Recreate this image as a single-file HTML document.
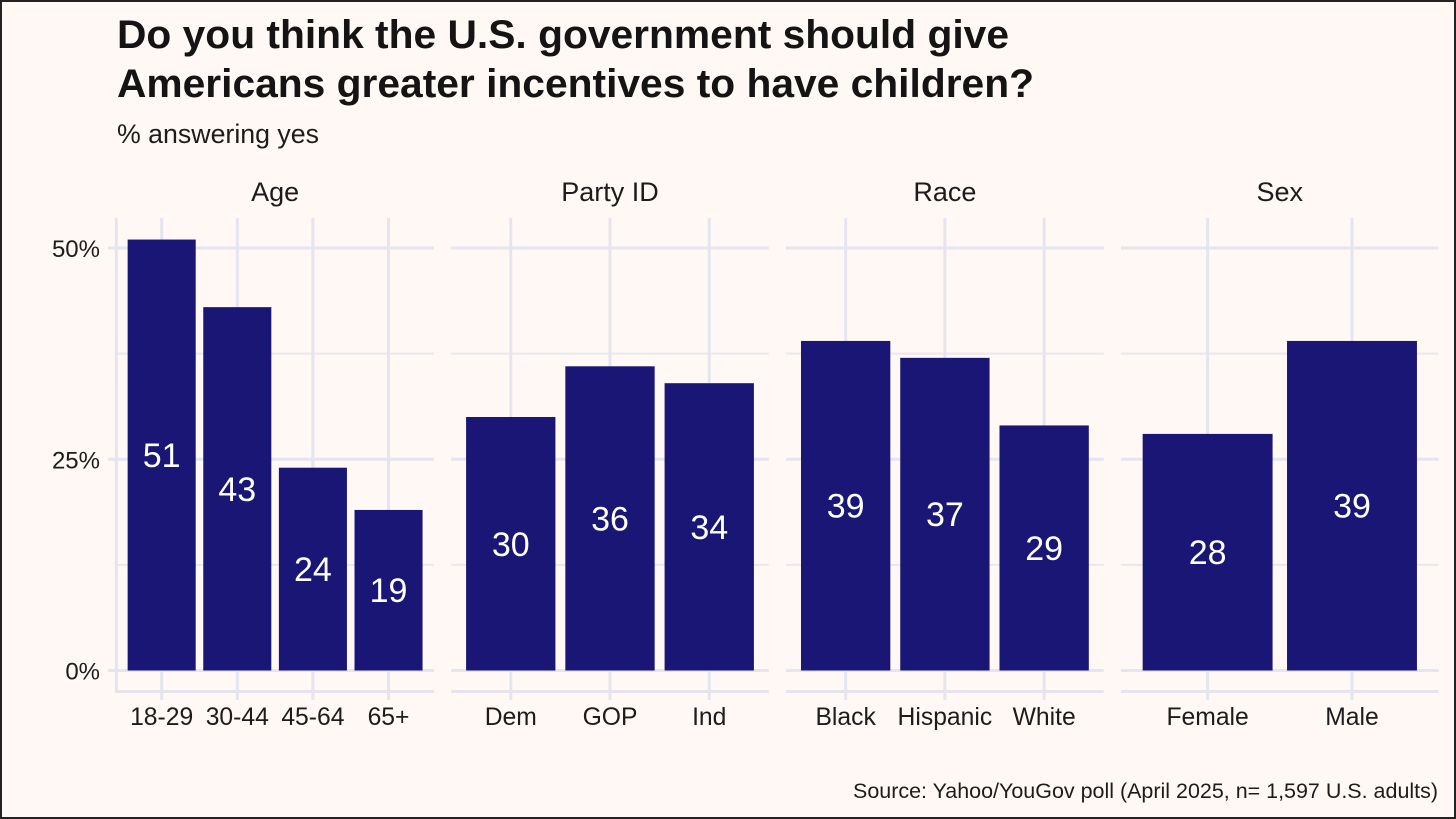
<!DOCTYPE html>
<html lang="en">
<head>
<meta charset="utf-8">
<title>Do you think the U.S. government should give Americans greater incentives to have children?</title>
<style>
html,body{margin:0;padding:0;width:1456px;height:819px;overflow:hidden;background:#fff8f4}
svg{display:block;font-family:"Liberation Sans",sans-serif}
.grid-major{stroke:#e4e5ee;stroke-width:3;fill:none}
.grid-minor{stroke:#e8e8ef;stroke-width:2;fill:none}
.tick-label{font-size:24.7px;fill:#1c1c1c}
.y-label{font-size:24px}
.strip{font-size:27px;fill:#1c1c1c;text-anchor:middle}
.bar{fill:#1a1676}
.value{font-size:34px;fill:#fff;text-anchor:middle}
</style>
</head>
<body>
<svg id="chart" xmlns="http://www.w3.org/2000/svg" width="1456" height="819" viewBox="0 0 1456 819">
<rect x="1" y="1" width="1454" height="817" fill="#fff8f4" stroke="#222" stroke-width="2"/>
<text x="117" y="48" font-size="40" font-weight="700" fill="#141414" textLength="892" lengthAdjust="spacingAndGlyphs">Do you think the U.S. government should give</text>
<text x="117" y="97" font-size="40" font-weight="700" fill="#141414" textLength="917" lengthAdjust="spacingAndGlyphs">Americans greater incentives to have children?</text>
<text x="117" y="143" font-size="27" fill="#1c1c1c" textLength="202" lengthAdjust="spacingAndGlyphs">% answering yes</text>
<text x="853" y="798" font-size="21" fill="#1c1c1c" textLength="585" lengthAdjust="spacingAndGlyphs">Source: Yahoo/YouGov poll (April 2025, n= 1,597 U.S. adults)</text>
<g id="plot"></g>
</svg>
<script>
const panelTitles = ["Age", "Party ID", "Race", "Sex"];
const ageCategories = ["18-29", "30-44", "45-64", "65+"];
const ageValues = [51, 43, 24, 19];
const partyCategories = ["Dem", "GOP", "Ind"];
const partyValues = [30, 36, 34];
const raceCategories = ["Black", "Hispanic", "White"];
const raceValues = [39, 37, 29];
const sexCategories = ["Female", "Male"];
const sexValues = [28, 39];
const majorTicks = [0, 25, 50];
const minorTicks = [12.5, 37.5];

const panelCategories = [ageCategories, partyCategories, raceCategories, sexCategories];
const panelValues = [ageValues, partyValues, raceValues, sexValues];

const plot = document.getElementById('plot');
const NS = 'http://www.w3.org/2000/svg';
const firstPanelLeft = 116.3, panelStep = 334.9, panelWidth = 317.6;
const panelTop = 218, panelBottom = 691.5;

function yScale(v) { return 670.5 - v * 8.45; }
function panelLeft(i) { return firstPanelLeft + panelStep * i; }
function bandStep(n) { return panelWidth / (n - 1 + 1.2); }
function xScale(i, j, n) { return panelLeft(i) + bandStep(n) * (0.6 + j); }
function kebab(s) { return s.toLowerCase().replace(/[^a-z0-9]+/g, '-').replace(/^-|-$/g, ''); }

function make(tag, attrs, parent, text) {
  const el = document.createElementNS(NS, tag);
  for (const k in attrs) el.setAttribute(k, attrs[k]);
  if (text !== undefined) el.textContent = text;
  parent.appendChild(el);
  return el;
}

panelTitles.forEach(function (title, i) {
  const cats = panelCategories[i];
  const vals = panelValues[i];
  const n = cats.length;
  const L = panelLeft(i), R = L + panelWidth;
  const slug = kebab(title);

  const g = make('g', {}, plot);
  
  

  const strip = make('text', { class: 'strip', x: L + panelWidth / 2, y: 201 }, g, title);
  
  

  minorTicks.forEach(function (t) {
    const line = make('line', { class: 'grid-minor', x1: L, x2: R, y1: yScale(t), y2: yScale(t) }, g);
    
    
  });
  majorTicks.forEach(function (t) {
    const line = make('line', { class: 'grid-major', x1: L, x2: R, y1: yScale(t), y2: yScale(t) }, g);
    
    
  });

  const axisLine = make('line', { class: 'grid-major', x1: L, x2: R, y1: panelBottom, y2: panelBottom }, g);
  
  

  cats.forEach(function (c, j) {
    const x = xScale(i, j, n);
    const line = make('line', { class: 'grid-major', x1: x, x2: x, y1: panelTop, y2: 700 }, g);
    
    
  });

  if (i === 0) {
    const yAxis = make('line', { class: 'grid-major', x1: L, x2: L, y1: panelTop, y2: panelBottom + 1.5 }, g);
    
    
    majorTicks.forEach(function (t) {
      const tick = make('line', { class: 'grid-major', x1: 108, x2: L, y1: yScale(t), y2: yScale(t) }, g);
      
      
      const lab = make('text', { class: 'tick-label y-label', x: 100, y: yScale(t) + 9, 'text-anchor': 'end' }, g, t + '%');
      
      
    });
  }

  const w = bandStep(n) * 0.9;
  cats.forEach(function (c, j) {
    const x = xScale(i, j, n);
    const v = vals[j];
    const bar = make('rect', { class: 'bar', x: x - w / 2, width: w, y: yScale(v), height: yScale(0) - yScale(v) }, g);
    
    
    const val = make('text', { class: 'value', x: x, y: yScale(v / 2) + 12 }, g, String(v));
    
    
    const lab = make('text', { class: 'tick-label', x: x, y: 725, 'text-anchor': 'middle' }, g, c);
    
    
  });
});
</script>
</body>
</html>
